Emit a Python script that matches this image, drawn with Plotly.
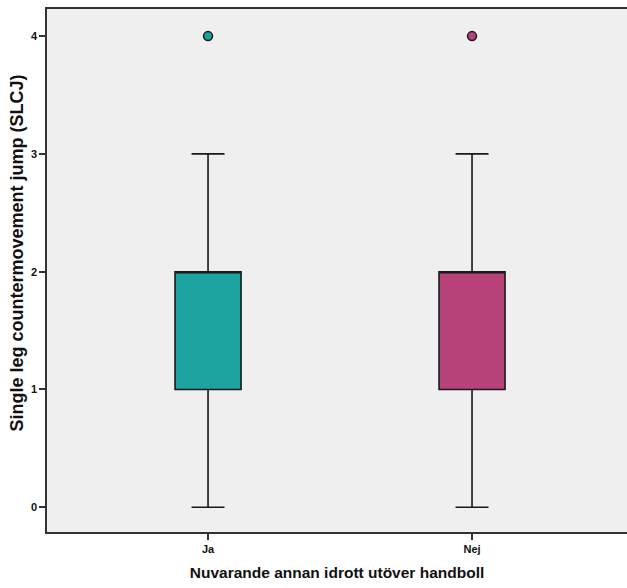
import plotly.graph_objects as go

categories = ["Ja", "Nej"]
lower_fence = [0, 0]
q1 = [1, 1]
median = [2, 2]
q3 = [2, 2]
upper_fence = [3, 3]
outliers = [4, 4]
colors = ["#1aa39f", "#b8427a"]

fig = go.Figure()
for i, cat in enumerate(categories):
    fig.add_trace(go.Box(
        x=[cat], q1=[q1[i]], median=[median[i]], q3=[q3[i]],
        lowerfence=[lower_fence[i]], upperfence=[upper_fence[i]],
        fillcolor=colors[i], line=dict(color="#1a1a1a", width=1.6),
        width=0.25, whiskerwidth=0.5, boxpoints=False, showlegend=False,
        hoverinfo="skip",
    ))
    fig.add_trace(go.Scatter(
        x=[cat], y=[outliers[i]], mode="markers",
        marker=dict(color=colors[i], size=9, line=dict(color="#1a1a1a", width=1.5)),
        showlegend=False, hoverinfo="skip",
    ))

font_fam = "Liberation Sans, Arial, sans-serif"
tick_font = dict(family="Liberation Sans Narrow, " + font_fam, size=11, color="#111", weight="bold")
fig.update_layout(
    width=627, height=588,
    margin=dict(l=47, r=0, t=9, b=56),
    paper_bgcolor="white", plot_bgcolor="#efefef",
    font=dict(family=font_fam, color="#111"),
    xaxis=dict(
        type="category", range=[-0.61, 1.587],
        showline=True, linecolor="#333", linewidth=1.5, mirror=True,
        ticks="outside", ticklen=6, tickcolor="#333", tickwidth=1.5,
        showgrid=False, zeroline=False, tickfont=tick_font,
        title=dict(text="<b>Nuvarande annan idrott utöver handboll</b>",
                   font=dict(size=15.5, color="#111"), standoff=13),
    ),
    yaxis=dict(
        range=[-0.21, 4.23], tickvals=[0, 1, 2, 3, 4],
        showline=True, linecolor="#333", linewidth=1.5, mirror=False,
        ticks="outside", ticklen=6, tickcolor="#333", tickwidth=1.5,
        showgrid=False, zeroline=False, tickfont=tick_font,
    ),
    annotations=[dict(
        text="<b>Single leg countermovement jump (SLCJ)</b>",
        textangle=-90, xref="paper", yref="paper",
        x=-0.052, y=0.534, xanchor="center", yanchor="middle",
        showarrow=False, font=dict(size=18, color="#111"),
    )],
)
fig.write_html(
    "out.html",
    config={"displayModeBar": False},
    post_script="document.body.style.margin='0';document.body.style.overflow='hidden';",
)
